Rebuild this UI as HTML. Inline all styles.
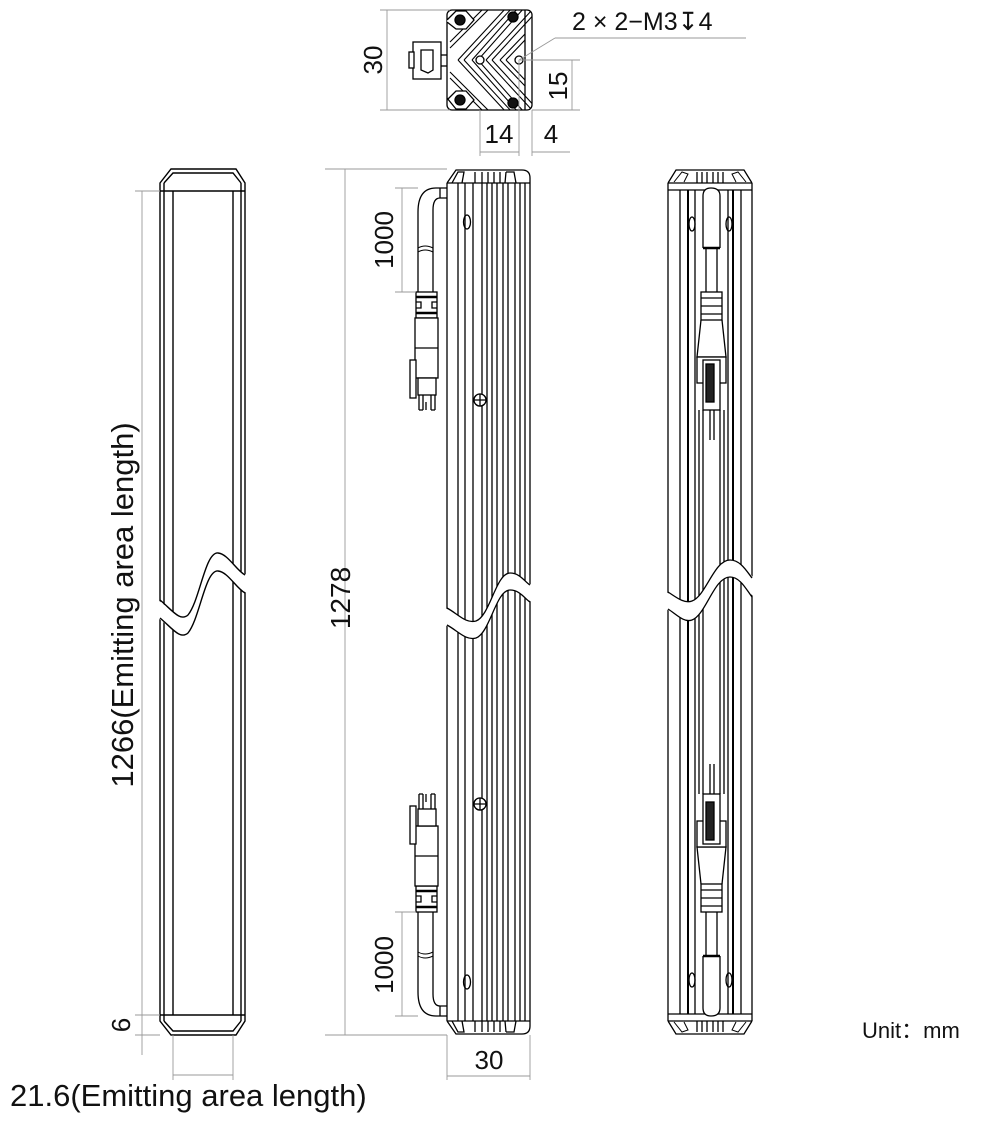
<!DOCTYPE html>
<html><head><meta charset="utf-8"><style>
html,body{margin:0;padding:0;background:#fff;}
svg{display:block;}
text{font-family:"Liberation Sans",sans-serif;fill:#111;}
</style></head><body>
<svg width="1000" height="1126" viewBox="0 0 1000 1126" xmlns="http://www.w3.org/2000/svg">
<defs>
<clipPath id="tv"><rect x="447" y="10" width="85" height="100" rx="5"/></clipPath>
</defs>

<!-- ================= TOP VIEW ================= -->
<g stroke="#000" stroke-width="1.3" fill="none">
  <rect x="447" y="10" width="85" height="100" rx="5"/>
  <line x1="525" y1="10" x2="525" y2="110"/>
  <g clip-path="url(#tv)" stroke-width="1.1">
    <path d="M458,60 L506,8 M458,60 L506,112"/>
    <path d="M464,60 L512,8 M464,60 L512,112"/>
    <path d="M472,60 L518,8 M472,60 L518,112"/>
    <path d="M478,60 L524,8 M478,60 L524,112"/>
    <path d="M486,60 L532,10 M486,60 L532,110"/>
    <path d="M492,60 L538,10 M492,60 L538,110"/>
    <path d="M450,48 L490,8 M450,72 L490,112"/>
    <path d="M450,42 L484,8 M450,78 L484,112"/>
    <path d="M500,60 L525,34 M500,60 L525,86"/>
    <path d="M506,60 L525,40 M506,60 L525,80"/>
  </g>
  <circle cx="480" cy="60" r="4" fill="#fff"/>
  <circle cx="519" cy="60" r="4" fill="#fff"/>
  <path d="M447,20 L456,11 L466,11 L474,20 L466,29 L456,29 L447,22" fill="#fff"/>
  <path d="M447,100 L456,91 L466,91 L474,100 L466,109 L456,109 L447,98" fill="#fff"/>
  <circle cx="460" cy="20" r="5" fill="#111"/>
  <circle cx="460" cy="100" r="5" fill="#111"/>
  <circle cx="513" cy="17" r="5" fill="#111"/>
  <circle cx="513" cy="103" r="5" fill="#111"/>
  <rect x="413" y="42" width="28" height="37" fill="#fff"/>
  <rect x="409" y="52" width="5" height="16" fill="#fff"/>
  <path d="M421,50 L433,50 L433,70 L428,73 L421,70 Z" fill="#fff"/>
  <line x1="441" y1="55" x2="447" y2="55"/>
  <line x1="441" y1="66" x2="447" y2="66"/>
</g>
<g stroke="#999" stroke-width="0.9" fill="none">
  <line x1="380" y1="10" x2="450" y2="10"/>
  <line x1="380" y1="110" x2="450" y2="110"/>
  <line x1="387" y1="10" x2="387" y2="110"/>
  <line x1="520" y1="60" x2="580" y2="60"/>
  <line x1="532" y1="110" x2="580" y2="110"/>
  <line x1="572" y1="60" x2="572" y2="110"/>
  <line x1="480" y1="110" x2="480" y2="156"/>
  <line x1="519" y1="60" x2="519" y2="156"/>
  <line x1="532" y1="110" x2="532" y2="156"/>
  <line x1="480" y1="152" x2="519" y2="152"/>
  <line x1="532" y1="152" x2="570" y2="152"/>
  <line x1="519" y1="60" x2="555" y2="38"/>
  <line x1="555" y1="38" x2="746" y2="38"/>
</g>
<text x="0" y="0" font-size="26" transform="translate(382,60) rotate(-90)" text-anchor="middle">30</text>
<text x="0" y="0" font-size="26" transform="translate(567,86) rotate(-90)" text-anchor="middle">15</text>
<text x="499" y="143" font-size="26" text-anchor="middle">14</text>
<text x="551" y="143" font-size="26" text-anchor="middle">4</text>
<text x="572" y="30" font-size="25">2 × 2−M3↧4</text>

<!-- ================= LEFT BAR ================= -->
<g stroke="#000" stroke-width="1.4" fill="none">
  <path d="M160,183 L171,169 L236,169 L245,183 L245,1021 L236,1035 L171,1035 L160,1021 Z" fill="#fff"/>
  <line x1="164" y1="183" x2="164" y2="1021"/>
  <line x1="173" y1="191" x2="173" y2="1015"/>
  <line x1="233" y1="191" x2="233" y2="1015"/>
  <line x1="241" y1="183" x2="241" y2="1021"/>
  <line x1="160" y1="191" x2="245" y2="191"/>
  <line x1="160" y1="1015" x2="245" y2="1015"/>
  <path d="M164,183 L173,173 L233,173 L241,183"/>
  <path d="M164,1021 L173,1031 L233,1031 L241,1021"/>
  <path d="M158,600 C172,610 180,622 188,615 C200,600 205,552 218,553 C228,554 236,570 247,575 L247,593 C236,588 228,572 218,571 C205,570 200,618 188,633 C180,640 172,628 158,618 Z" fill="#fff" stroke="none"/>
  <path d="M160,600 C172,610 180,622 188,615 C200,600 205,552 218,553 C228,554 236,570 245,575"/>
  <path d="M160,618 C172,628 180,640 188,633 C200,618 205,570 218,571 C228,572 236,588 245,593"/>
</g>
<g stroke="#999" stroke-width="0.9" fill="none">
  <line x1="135" y1="191" x2="160" y2="191"/>
  <line x1="135" y1="1015" x2="160" y2="1015"/>
  <line x1="135" y1="1035" x2="160" y2="1035"/>
  <line x1="142" y1="191" x2="142" y2="1055"/>
  <line x1="173" y1="1035" x2="173" y2="1080"/>
  <line x1="233" y1="1035" x2="233" y2="1080"/>
  <line x1="173" y1="1075" x2="233" y2="1075"/>
</g>
<text x="0" y="0" font-size="31" transform="translate(133,605) rotate(-90)" text-anchor="middle">1266(Emitting area length)</text>
<text x="0" y="0" font-size="26" transform="translate(130,1025) rotate(-90)" text-anchor="middle">6</text>
<text x="10" y="1106" font-size="31">21.6(Emitting area length)</text>

<!-- ================= MIDDLE BAR ================= -->
<g id="midtop" stroke="#000" stroke-width="1.3" fill="none">
  <path d="M447,183 L456,170 L522,170 Q530,170 530,178 L530,183"/>
  <line x1="447" y1="183" x2="530" y2="183"/>
  <path d="M452,183 L458,172 L464,172 L462,183"/>
  <path d="M506,172 L514,172 L516,183 M505,183 L506,172"/>
  <line x1="475" y1="172" x2="475" y2="183"/><line x1="482" y1="172" x2="482" y2="183"/>
  <line x1="488" y1="172" x2="488" y2="183"/><line x1="494" y1="172" x2="494" y2="183"/>
  <line x1="500" y1="172" x2="500" y2="183"/>
  <ellipse cx="467" cy="222" rx="3.5" ry="7"/>
  <path d="M447,188 L436,188 Q418,188 418,212 L418,292"/>
  <path d="M447,198 L440,198 Q433,198 433,210 L433,292"/>
  <line x1="440" y1="188" x2="440" y2="198"/>
  <path d="M418,248 q7,-4 15,0" stroke-width="1"/>
  <path d="M418,252 q7,-4 15,0" stroke-width="1"/>
  <rect x="416" y="292" width="21" height="26" fill="#fff"/>
  <line x1="416" y1="297" x2="437" y2="297" stroke-width="2.5"/>
  <line x1="416" y1="313" x2="437" y2="313" stroke-width="2.5"/>
  <path d="M416,302 h5 v6 h-5 M437,302 h-5 v6 h5"/>
  <rect x="415" y="318" width="23" height="60" fill="#fff"/>
  <line x1="415" y1="348" x2="438" y2="348"/>
  <rect x="410" y="360" width="6" height="38" fill="#fff"/>
  <rect x="418" y="378" width="18" height="17" fill="#fff"/>
  <path d="M419,395 L419,410 M423,395 L423,410 M431,395 L431,410 M435,395 L435,410 M419,410 h4 M431,410 h4 M426,402 v8"/>
  <circle cx="480" cy="400" r="6" fill="#fff"/>
  <path d="M474,400 h12 M480,394 v12"/>
</g>
<use href="#midtop" transform="translate(0,1204) scale(1,-1)"/>
<g stroke="#000" stroke-width="1.3" fill="none">
  <line x1="447" y1="183" x2="447" y2="1021"/>
  <line x1="458" y1="183" x2="458" y2="1021"/>
  <line x1="465" y1="183" x2="465" y2="1021"/>
  <line x1="473" y1="183" x2="473" y2="1021"/>
  <line x1="482" y1="183" x2="482" y2="1021"/>
  <line x1="487" y1="183" x2="487" y2="1021"/>
  <line x1="492" y1="183" x2="492" y2="1021"/>
  <line x1="497" y1="183" x2="497" y2="1021"/>
  <line x1="503" y1="183" x2="503" y2="1021"/>
  <line x1="508" y1="183" x2="508" y2="1021"/>
  <line x1="515" y1="183" x2="515" y2="1021"/>
  <line x1="520" y1="183" x2="520" y2="1021"/>
  <line x1="525" y1="183" x2="525" y2="1021"/>
  <line x1="530" y1="183" x2="530" y2="1021"/>
  <path d="M445,608 C458,614 466,624 476,621 C490,616 496,573 510,573 C520,573 525,582 532,585 L532,602 C525,599 520,590 510,590 C496,590 490,633 476,638 C466,641 458,631 445,625 Z" fill="#fff" stroke="none"/>
  <path d="M447,608 C458,614 466,624 476,621 C490,616 496,573 510,573 C520,573 525,582 530,585"/>
  <path d="M447,625 C458,631 466,641 476,638 C490,633 496,590 510,590 C520,590 525,599 530,602"/>
  <circle cx="480" cy="400" r="6" fill="#fff"/>
  <path d="M474,400 h12 M480,394 v12"/>
  <circle cx="480" cy="804" r="6" fill="#fff"/>
  <path d="M474,804 h12 M480,798 v12"/>
</g>
<g stroke="#999" stroke-width="0.9" fill="none">
  <line x1="325" y1="169" x2="447" y2="169"/>
  <line x1="325" y1="1035" x2="447" y2="1035"/>
  <line x1="345" y1="169" x2="345" y2="1035"/>
  <line x1="395" y1="188" x2="418" y2="188"/>
  <line x1="395" y1="292" x2="416" y2="292"/>
  <line x1="402" y1="188" x2="402" y2="292"/>
  <line x1="395" y1="912" x2="416" y2="912"/>
  <line x1="395" y1="1016" x2="418" y2="1016"/>
  <line x1="402" y1="912" x2="402" y2="1016"/>
  <line x1="447" y1="1035" x2="447" y2="1080"/>
  <line x1="530" y1="1035" x2="530" y2="1080"/>
  <line x1="447" y1="1076" x2="530" y2="1076"/>
</g>
<text x="0" y="0" font-size="28" transform="translate(350,598) rotate(-90)" text-anchor="middle">1278</text>
<text x="0" y="0" font-size="26" transform="translate(393,240) rotate(-90)" text-anchor="middle">1000</text>
<text x="0" y="0" font-size="26" transform="translate(393,965) rotate(-90)" text-anchor="middle">1000</text>
<text x="489" y="1069" font-size="26" text-anchor="middle">30</text>

<!-- ================= RIGHT BAR ================= -->
<g id="rtop" stroke="#000" stroke-width="1.3" fill="none">
  <path d="M668,183 L676,170 L744,170 L752,183"/>
  <line x1="668" y1="183" x2="752" y2="183"/>
  <line x1="668" y1="190" x2="752" y2="190"/>
  <path d="M674,182 L682,172 L688,174 L684,182" stroke-width="1"/>
  <path d="M746,182 L738,172 L732,174 L736,182" stroke-width="1"/>
  <path d="M697,172 v11 M702,172 v11 M707,172 v11 M713,172 v11 M718,172 v11 M723,172 v11"/>
  <ellipse cx="692" cy="224" rx="3" ry="7"/>
  <ellipse cx="729" cy="224" rx="3" ry="7"/>
  <path d="M703,248 L703,196 Q703,188 711,188 Q720,188 720,196 L720,248" fill="#fff"/>
  <line x1="703" y1="248" x2="720" y2="248" stroke-width="2.5"/>
  <line x1="706" y1="248" x2="706" y2="292"/>
  <line x1="717" y1="248" x2="717" y2="292"/>
  <rect x="701" y="292" width="21" height="28" fill="#fff"/>
  <path d="M701,298 h21 M701,306 h21 M701,314 h21"/>
  <path d="M701,320 L697,357 L726,357 L722,320"/>
  <rect x="697" y="357" width="29" height="26" fill="#fff"/>
  <rect x="703" y="360" width="17" height="50" fill="#fff"/>
  <rect x="706" y="364" width="8" height="38" fill="#222"/>
  <line x1="710" y1="410" x2="710" y2="440"/>
  <line x1="714" y1="410" x2="714" y2="440"/>
</g>
<use href="#rtop" transform="translate(0,1204) scale(1,-1)"/>
<g stroke="#000" stroke-width="1.3" fill="none">
  <line x1="668" y1="183" x2="668" y2="1021"/>
  <line x1="680" y1="190" x2="680" y2="1014"/>
  <line x1="688" y1="190" x2="688" y2="1014" stroke-width="2"/>
  <line x1="695" y1="190" x2="695" y2="1014"/>
  <line x1="699" y1="410" x2="699" y2="794"/>
  <line x1="703" y1="410" x2="703" y2="794"/>
  <line x1="720" y1="410" x2="720" y2="794"/>
  <line x1="724" y1="410" x2="724" y2="794"/>
  <line x1="728" y1="190" x2="728" y2="1014"/>
  <line x1="733" y1="190" x2="733" y2="1014" stroke-width="2"/>
  <line x1="741" y1="190" x2="741" y2="1014"/>
  <line x1="752" y1="183" x2="752" y2="1021"/>
  <path d="M666,592 C676,597 684,604 692,601 C706,596 714,560 730,560 C740,560 746,570 754,578 L754,597 C746,589 740,577 730,577 C714,577 706,615 692,620 C684,623 676,614 666,609 Z" fill="#fff" stroke="none"/>
  <path d="M668,592 C676,597 684,604 692,601 C706,596 714,560 730,560 C740,560 746,570 752,578"/>
  <path d="M668,609 C676,614 684,623 692,620 C706,615 714,577 730,577 C740,577 746,589 752,597"/>
</g>

<text x="862" y="1038" font-size="22">Unit：mm</text>
</svg>
</body></html>
